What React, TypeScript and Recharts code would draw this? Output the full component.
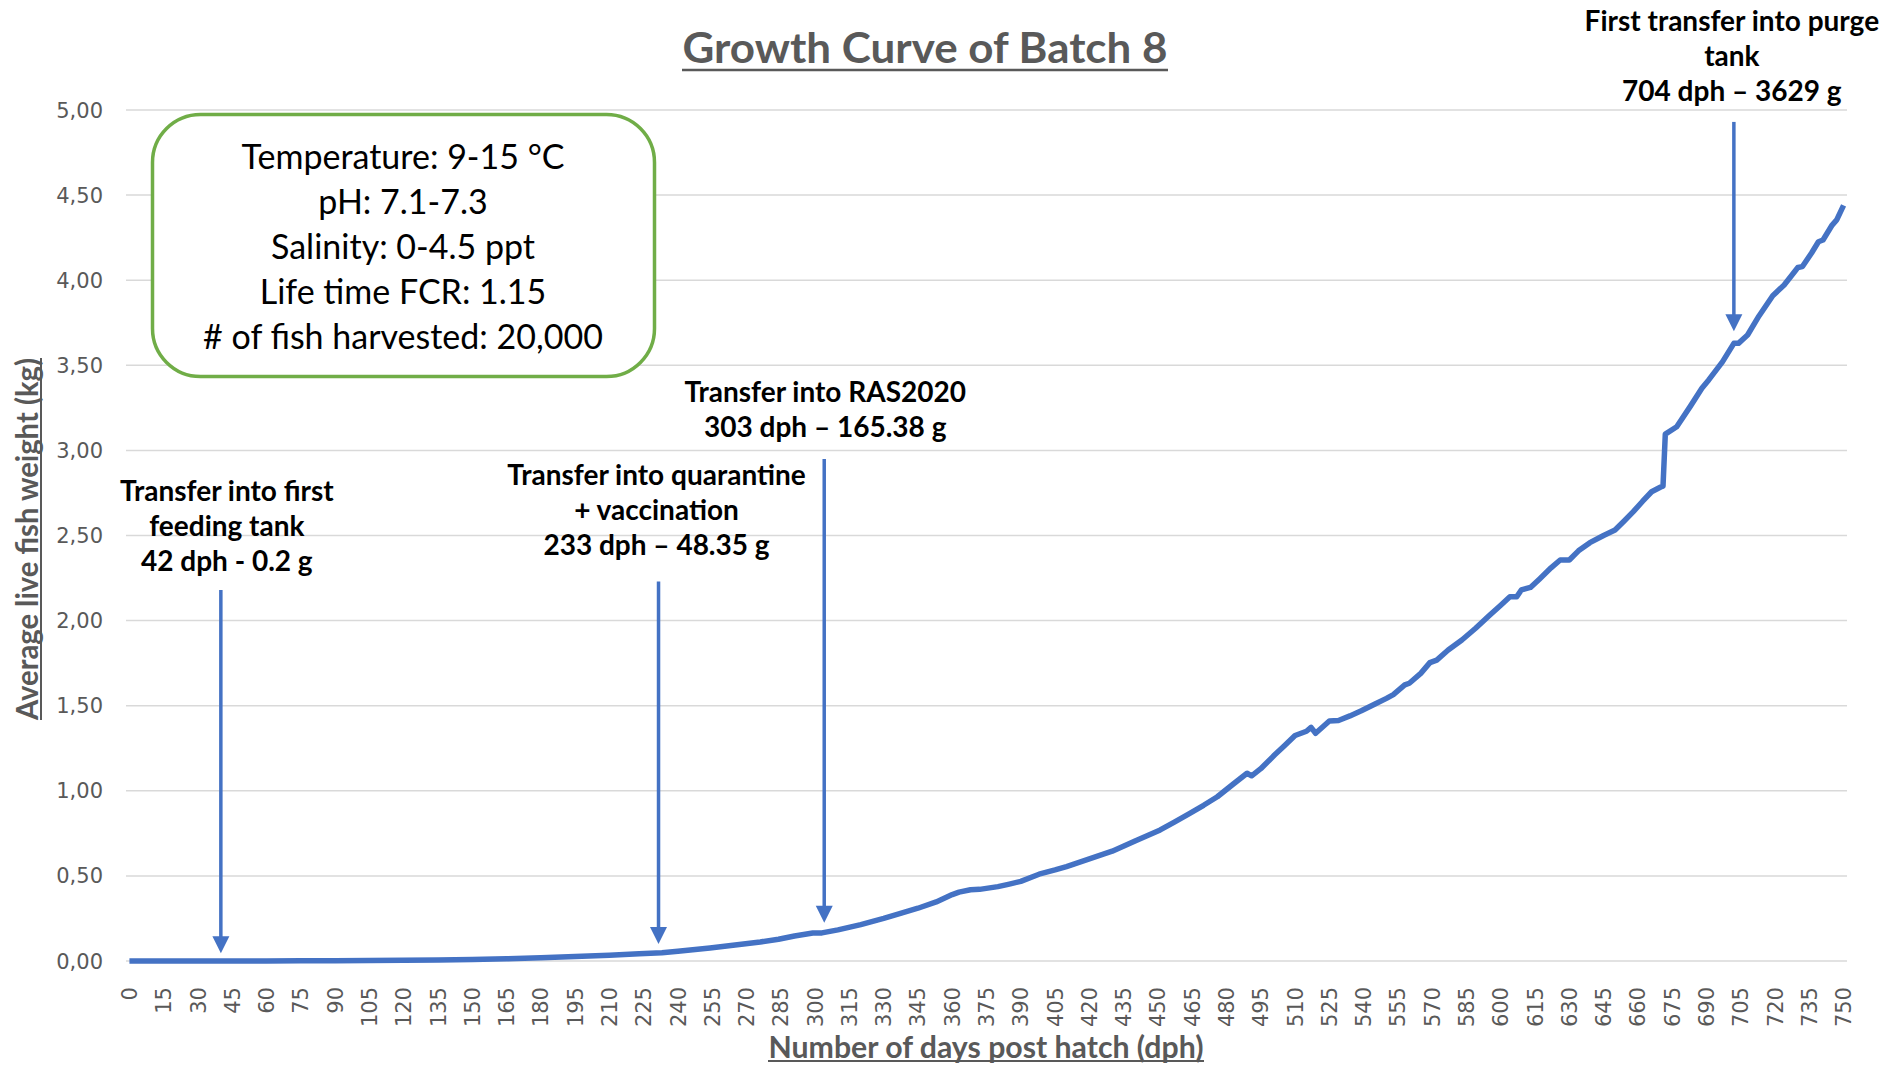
import React from 'react';
import { LineChart, Line, XAxis, YAxis, CartesianGrid, ReferenceLine } from 'recharts';

// days post hatch and average live weight (kg)
const days = [
  0, 15, 30, 42, 60, 75, 90, 105, 120, 135, 150, 165, 180, 195, 210, 223, 233, 240,
  254, 265, 276, 284, 291, 299, 303, 310, 320, 330, 337, 345, 353, 360, 363, 368, 372,
  380, 385, 390, 398, 405, 410, 420, 430, 440, 446, 451, 457, 463, 470, 476, 483, 489,
  491, 495, 501, 505, 510, 515, 517, 519, 525, 529, 534, 539, 545, 550, 553, 558, 560,
  565, 569, 572, 577, 583, 589, 595, 600, 604, 607, 609, 613, 617, 622, 626, 630, 634,
  639, 645, 650, 654, 658, 662, 666, 670, 671, 672, 677, 683, 688, 691, 697, 702, 704,
  708, 713, 719, 724, 730, 732, 736, 739, 741, 745, 747, 750,
];
const weights = [
  0.0002, 0.0002, 0.0002, 0.0002, 0.0005, 0.0008, 0.0015, 0.0025, 0.004, 0.006, 0.009,
  0.013, 0.019, 0.026, 0.034, 0.043, 0.048, 0.057, 0.076, 0.094, 0.112, 0.128, 0.147,
  0.164, 0.165, 0.183, 0.214, 0.25, 0.278, 0.31, 0.347, 0.39, 0.405, 0.419, 0.421, 0.437,
  0.452, 0.468, 0.51, 0.535, 0.555, 0.6, 0.645, 0.705, 0.74, 0.77, 0.815, 0.86, 0.915,
  0.965, 1.04, 1.103, 1.088, 1.13, 1.21, 1.26, 1.325, 1.35, 1.373, 1.338, 1.41, 1.413,
  1.44, 1.47, 1.51, 1.543, 1.565, 1.622, 1.632, 1.69, 1.753, 1.768, 1.827, 1.886, 1.955,
  2.03, 2.09, 2.14, 2.14, 2.18, 2.195, 2.245, 2.31, 2.356, 2.356, 2.41, 2.458, 2.5, 2.532,
  2.585, 2.64, 2.7, 2.757, 2.785, 2.79, 3.096, 3.139, 3.26, 3.365, 3.414, 3.52, 3.629,
  3.629, 3.678, 3.79, 3.909, 3.972, 4.075, 4.08, 4.16, 4.226, 4.236, 4.324, 4.354, 4.44,
];

const xTicks = [
  0, 15, 30, 45, 60, 75, 90, 105, 120, 135, 150, 165, 180, 195, 210, 225, 240, 255, 270,
  285, 300, 315, 330, 345, 360, 375, 390, 405, 420, 435, 450, 465, 480, 495, 510, 525,
  540, 555, 570, 585, 600, 615, 630, 645, 660, 675, 690, 705, 720, 735, 750,
];
const yTicks = [0, 0.5, 1, 1.5, 2, 2.5, 3, 3.5, 4, 4.5, 5];

// arrows: day, top of shaft and tip (kg)
const arrowDays = [40, 231.5, 304, 702];
const arrowTops = [2.18, 2.23, 2.95, 4.93];
const arrowTips = [0.045, 0.1, 0.225, 3.7];
const arrowLabels = [
  ['Transfer into first', 'feeding tank', '42 dph - 0.2 g'],
  ['Transfer into quarantine', '+ vaccination', '233 dph – 48.35 g'],
  ['Transfer into RAS2020', '303 dph – 165.38 g'],
  ['First transfer into purge', 'tank', '704 dph – 3629 g'],
];
const labelShift = [
  { dx: 6, gap: 29 },
  { dx: -2, gap: 36 },
  { dx: 1, gap: 32 },
  { dx: -2, gap: 31 },
];

const conditions = [
  'Temperature: 9-15 °C',
  'pH: 7.1-7.3',
  'Salinity: 0-4.5 ppt',
  'Life time FCR: 1.15',
  '# of fish harvested: 20,000',
];

const BLUE = '#4472C4';
const GREY = '#595959';
const W = 1893;
const H = 1065;

const data = days.map((d, i) => ({ day: d, weight: weights[i] }));

const XTick = ({ x, y, payload }: any) => (
  <text x={x} y={y} transform={`rotate(-90, ${x}, ${y})`} textAnchor="end" dy="0.36em"
    fontFamily="DejaVu Sans" fontSize={21} fill={GREY}>
    {payload.value}
  </text>
);

const YTick = ({ x, y, payload }: any) => (
  <text x={x} y={y} textAnchor="end" dy="0.36em" fontFamily="DejaVu Sans" fontSize={21} fill={GREY}>
    {Number(payload.value).toFixed(2).replace('.', ',')}
  </text>
);

const Arrow = ({ x1, y1, x2, y2, lines, dx, gap }: any) => {
  const head = 17;
  const n = lines.length;
  return (
    <g>
      <line x1={x1} y1={y1} x2={x2} y2={y2 - head + 1} stroke={BLUE} strokeWidth={3.5} />
      <polygon points={`${x2 - 8.5},${y2 - head} ${x2 + 8.5},${y2 - head} ${x2},${y2}`} fill={BLUE} />
      {lines.map((t: string, i: number) => (
        <text key={i} x={x1 + dx} y={y1 - gap - (n - 1 - i) * 35} dy="0.35em" textAnchor="middle"
          fontFamily="Lato" fontWeight={700} fontSize={28} fill="#000">
          {t}
        </text>
      ))}
    </g>
  );
};

export default function App() {
  return (
    <div style={{ position: 'absolute', left: 0, top: 0, width: W, height: H, background: '#fff', overflow: 'hidden' }}>
      <LineChart width={W} height={H} data={data} margin={{ top: 110, right: 46, bottom: 44, left: 46 }}>
        <CartesianGrid vertical={false} stroke="#D9D9D9" strokeWidth={1.5} />
        <XAxis dataKey="day" type="number" domain={[-1.5, 751.5]} ticks={xTicks} interval={0}
          axisLine={false} tickLine={false} tickSize={0} tickMargin={26} height={60} tick={<XTick />} />
        <YAxis type="number" domain={[0, 5]} ticks={yTicks} interval={0} axisLine={false}
          tickLine={false} tickSize={0} tickMargin={23} width={80} tick={<YTick />} />
        <Line type="linear" dataKey="weight" stroke={BLUE} strokeWidth={5.5} dot={false}
          isAnimationActive={false} strokeLinejoin="round" />
        {arrowDays.map((d, i) => (
          <ReferenceLine key={i} segment={[{ x: d, y: arrowTops[i] }, { x: d, y: arrowTips[i] }]}
            shape={(p: any) => <Arrow {...p} lines={arrowLabels[i]} dx={labelShift[i].dx} gap={labelShift[i].gap} />} />
        ))}
      </LineChart>
      <svg width={W} height={H} style={{ position: 'absolute', left: 0, top: 0, pointerEvents: 'none' }}>
        <text x={925} y={48} dy="0.35em" textAnchor="middle" fontFamily="Lato" fontWeight={700}
          fontSize={42} fill={GREY} textLength={485} lengthAdjust="spacingAndGlyphs">
          Growth Curve of Batch 8
        </text>
        <line x1={682} x2={1168} y1={70} y2={70} stroke={GREY} strokeWidth={2.5} />

        <text x={986} y={1047} dy="0.35em" textAnchor="middle" fontFamily="Lato" fontWeight={700}
          fontSize={31} fill={GREY} textLength={435} lengthAdjust="spacingAndGlyphs">
          Number of days post hatch (dph)
        </text>
        <line x1={768} x2={1204} y1={1061} y2={1061} stroke={GREY} strokeWidth={2} />

        <g transform="rotate(-90, 27, 539)">
          <text x={27} y={539} dy="0.35em" textAnchor="middle" fontFamily="Lato" fontWeight={700}
            fontSize={30} fill={GREY} textLength={362} lengthAdjust="spacingAndGlyphs">
            Average live fish weight (kg)
          </text>
          <line x1={-154} x2={208} y1={553} y2={553} stroke={GREY} strokeWidth={2} />
        </g>

        <rect x={152.5} y={114.5} width={502} height={262} rx={48} ry={48} fill="#fff"
          stroke="#70AD47" strokeWidth={3.5} />
        {conditions.map((t, i) => (
          <text key={i} x={403} y={157 + i * 45} dy="0.35em" textAnchor="middle" fontFamily="Lato"
            fontSize={34} fill="#000">
            {t}
          </text>
        ))}
      </svg>
    </div>
  );
}
